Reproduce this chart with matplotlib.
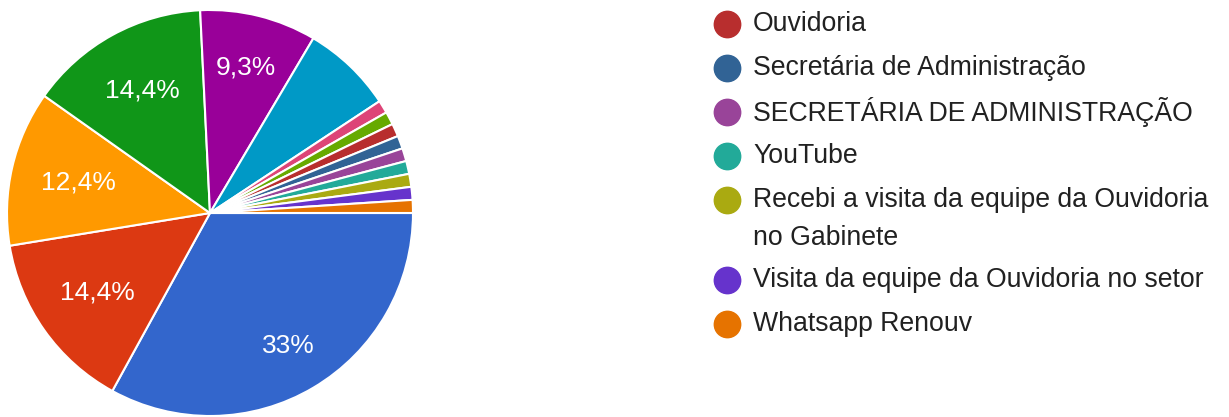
import numpy as np
import matplotlib.pyplot as plt

# Respostas (n = 97); as 8 primeiras categorias ficam fora da pagina visivel da legenda
categorias = [
    "Opção 1", "Opção 2", "Opção 3", "Opção 4", "Opção 5", "Opção 6",
    "Opção 7", "Opção 8",
    "Ouvidoria",
    "Secretária de Administração",
    "SECRETÁRIA DE ADMINISTRAÇÃO",
    "YouTube",
    "Recebi a visita da equipe da Ouvidoria\nno Gabinete",
    "Visita da equipe da Ouvidoria no setor",
    "Whatsapp Renouv",
]
respostas = [32, 14, 12, 14, 9, 7, 1, 1, 1, 1, 1, 1, 1, 1, 1]
cores = ["#3366cc", "#dc3912", "#ff9900", "#109618", "#990099", "#0099c6",
         "#dd4477", "#66aa00", "#b82e2e", "#316395", "#994499", "#22aa99",
         "#aaaa11", "#6633cc", "#e67300"]
inicio_legenda = 8

plt.rcParams['font.family'] = ['Liberation Sans', 'DejaVu Sans']

fig = plt.figure(figsize=(12.29, 4.17), dpi=100)
ax = fig.add_axes([7 / 1229, 1 / 417, 406 / 1229, 406 / 417])


def rotulo(p):
    if p < 8:
        return ''
    txt = f'{p:.1f}'.replace('.', ',')
    if txt.endswith(',0'):
        txt = txt[:-2]
    return txt + '%'


wedges, autotextos = ax.pie(
    respostas, colors=cores, startangle=0, counterclock=False,
    autopct=rotulo, pctdistance=0.7, radius=1.0,
    wedgeprops=dict(edgecolor='white', linewidth=1.5),
    textprops=dict(color='white', fontsize=19),
)[0::2]
ax.set_xlim(-1.0, 1.0)
ax.set_ylim(-1.0, 1.0)
ax.set_aspect('equal')

# afinar a distancia radial dos rotulos (o Google afasta mais os rotulos largos/altos)
dist_rotulo = [0.76, 0.68, 0.665, 0.69, 0.74]
for t, d in zip(autotextos, dist_rotulo):
    x, y = t.get_position()
    r = np.hypot(x, y)
    t.set_position((x / r * d, y / r * d))

# legenda (ultima pagina), desenhada a mao como no Google Forms
y_px = 24
for nome, cor in zip(categorias[inicio_legenda:], cores[inicio_legenda:]):
    fig.lines.append(plt.Line2D([727 / 1229], [1 - y_px / 417], marker='o',
                                markersize=19, color=cor,
                                transform=fig.transFigure))
    for i, linha in enumerate(nome.split('\n')):
        fig.text(753 / 1229, 1 - (y_px + 38 * i) / 417, linha, fontsize=19.2,
                 color='#212121', va='center', ha='left')
    y_px += 44 + 36 * nome.count('\n')

fig.savefig('out.png', dpi=100, facecolor='white')
